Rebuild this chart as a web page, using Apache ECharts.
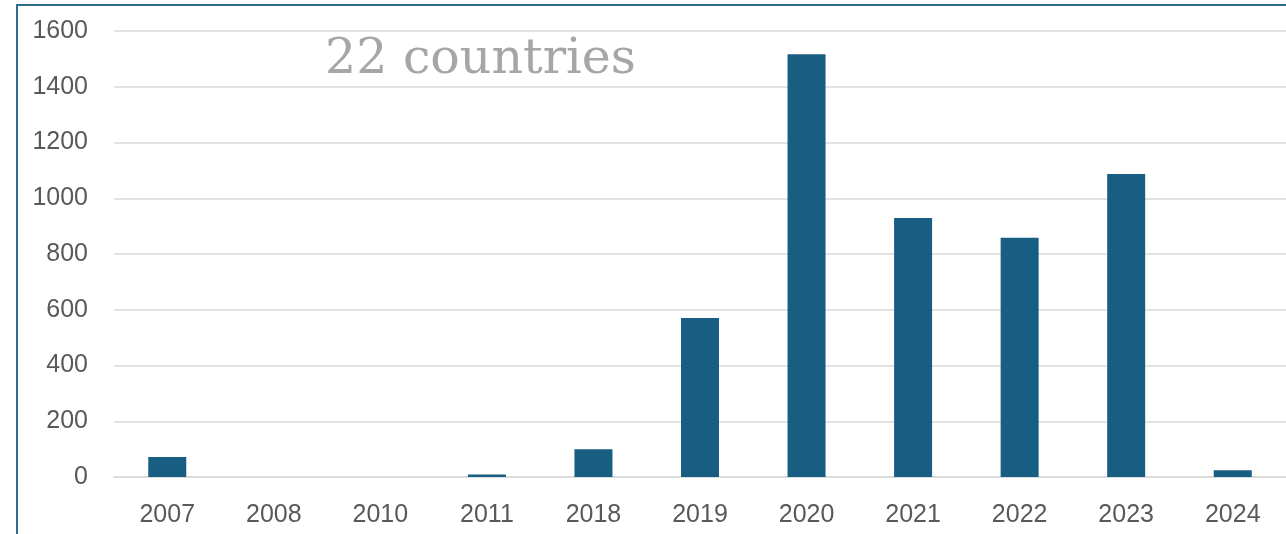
<!DOCTYPE html>
<html><head><meta charset="utf-8">
<script src="https://cdn.jsdelivr.net/npm/echarts@6/dist/echarts.min.js"></script>
<style>html,body{margin:0;padding:0;background:#fff}#c{width:1286px;height:534px}</style>
</head><body><div id="c"></div>
<script>
const categories = ['2007','2008','2010','2011','2018','2019','2020','2021','2022','2023','2024'];
const values = [72, 0, 0, 9, 100, 570, 1517, 929, 858, 1087, 24];
const yTicks = [0, 200, 400, 600, 800, 1000, 1200, 1400, 1600];
const titleText = '22 countries';

const chart = echarts.init(document.getElementById('c'), null, {renderer:'canvas'});
chart.setOption({
  animation: false,
  backgroundColor: '#fff',
  graphic: [
    {type:'rect', shape:{x:17, y:5, width:1300, height:560}, style:{fill:'none', stroke:'#2e6b8f', lineWidth:2}, z:100},
    {type:'text', left:325, top:36, style:{text:titleText, font:'49px "DejaVu Serif"', fill:'#a6a6a6'}, z:50}
  ],
  grid: {left:114, right:-2, top:31, bottom:57, containLabel:false},
  xAxis: {
    type:'category', data:categories,
    axisLine:{show:true, lineStyle:{color:'#d9d9d9', width:1.5}},
    axisTick:{show:false},
    axisLabel:{color:'#595959', fontSize:25, fontFamily:'Liberation Sans', margin:26}
  },
  yAxis: {
    type:'value', min:yTicks[0], max:yTicks[yTicks.length-1], interval:200,
    axisLine:{show:false}, axisTick:{show:false},
    splitLine:{lineStyle:{color:'#d9d9d9', width:1.5}},
    axisLabel:{color:'#595959', fontSize:25, fontFamily:'Liberation Sans', margin:26, formatter: v => String(v)}
  },
  series: [{
    type:'bar', data:values, barWidth:38,
    itemStyle:{color:'#175e82'}
  }]
});
</script></body></html>
